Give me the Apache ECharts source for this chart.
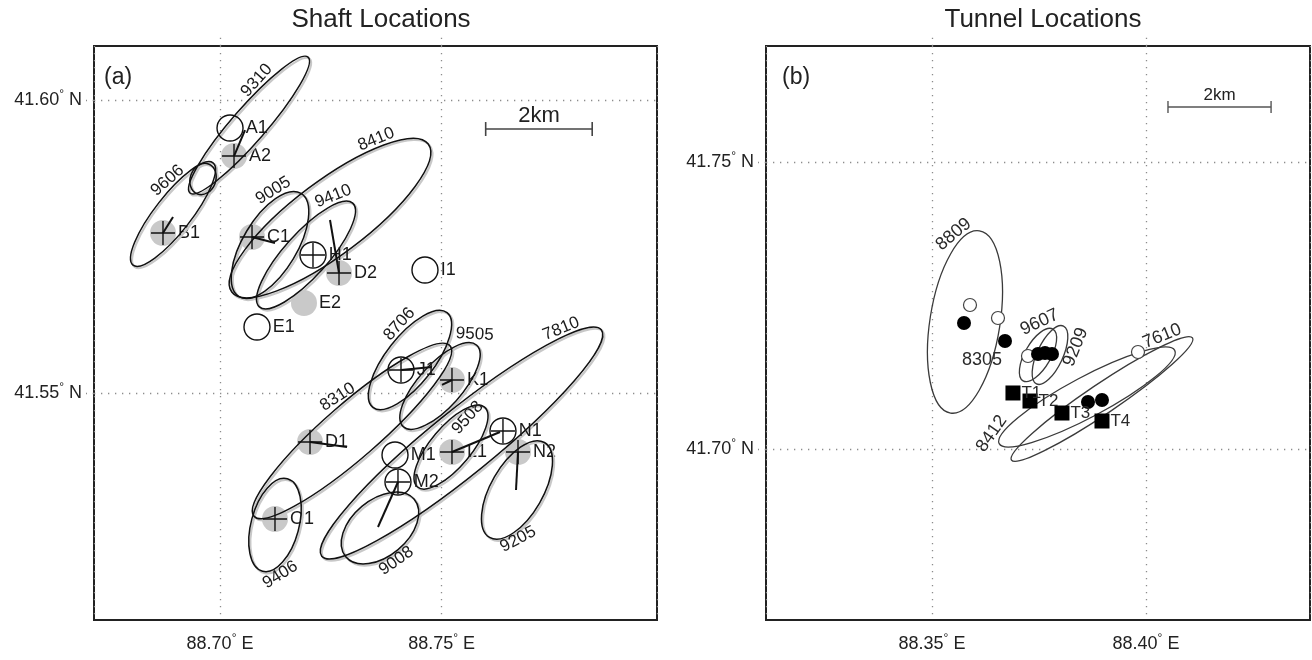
<!DOCTYPE html>
<html>
<head>
<meta charset="utf-8">
<title>Shaft and Tunnel Locations</title>
<script src="https://cdn.jsdelivr.net/npm/echarts@6/dist/echarts.min.js"></script>
<style>
  html, body { margin: 0; padding: 0; background: #fff; }
  #chart { width: 1312px; height: 660px; }
</style>
</head>
<body>
<div id="chart"></div>
<script>
const FONT = '"Liberation Sans", Arial, Helvetica, sans-serif';

// ---- panel (a): shaft locations ----
const shaftLonRange = [88.67158, 88.79856];
const shaftLatRange = [41.51126, 41.60922];
const shaftLonTicks = [88.70, 88.75];
const shaftLatTicks = [41.55, 41.60];

// [event, lon, lat, semi-major km, semi-minor km, azimuth deg (ccw from east),
//  label position on ellipse deg, label rotation deg, label offset px]
const shaftEllipses = [
  ['9310', 88.70654, 41.59573, 1.69, 0.32, 49, 65, 48, 8],
  ['9606', 88.68940, 41.58055, 1.22, 0.34, 52, 70, 42, 8],
  ['',     88.69617, 41.58652, 0.30, 0.24, 70, 0, 0, 0],
  ['8410', 88.72481, 41.57986, 2.31, 0.69, 37, 48, 22, 8],
  ['9005', 88.71128, 41.57526, 1.13, 0.51, 59, 42, 32, 8],
  ['9410', 88.71940, 41.57355, 1.31, 0.41, 48, 33, 22, 8],
  ['8706', 88.74285, 41.55563, 1.13, 0.45, 52, 70, 48, 8],
  ['9505', 88.74962, 41.55119, 1.03, 0.41, 48, 12, -3, 9],
  ['7810', 88.75447, 41.54147, 3.38, 0.60, 39, 35, 22, 8],
  ['8310', 88.72977, 41.54352, 2.44, 0.51, 41, 85, 33, 8],
  ['9406', 88.71240, 41.52747, 0.90, 0.45, 75, 210, 32, 8],
  ['9008', 88.73608, 41.52696, 0.84, 0.53, 40, -100, 35, 8],
  ['9508', 88.75210, 41.54078, 0.98, 0.38, 50, 46, 48, -9],
  ['9205', 88.76698, 41.53345, 1.03, 0.49, 60, -135, 28, 8]
];

// [name, lon, lat, has cross]
const shaftGray = [
  ['A2', 88.70316, 41.59044, 1],
  ['B1', 88.68714, 41.57730, 1],
  ['C1', 88.70722, 41.57662, 1],
  ['D2', 88.72684, 41.57048, 1],
  ['E2', 88.71894, 41.56536, 0],
  ['D1', 88.72030, 41.54164, 1],
  ['O1', 88.71240, 41.52850, 1],
  ['K1', 88.75232, 41.55222, 1],
  ['L1', 88.75232, 41.53993, 1],
  ['N2', 88.76721, 41.53993, 1]
];
const shaftOpen = [
  ['A1', 88.70226, 41.59522, 0],
  ['E1', 88.70834, 41.56126, 0],
  ['I1', 88.74623, 41.57099, 0],
  ['H1', 88.72097, 41.57355, 1],
  ['J1', 88.74082, 41.55393, 1],
  ['M1', 88.73947, 41.53942, 0],
  ['M2', 88.74014, 41.53481, 1],
  ['N1', 88.76382, 41.54351, 1]
];
// [station, lon end, lat end]
const shaftVectors = [
  ['A2', 88.70564, 41.59488],
  ['B1', 88.68940, 41.58003],
  ['C1', 88.71240, 41.57560],
  ['D2', 88.72481, 41.57952],
  ['D1', 88.72864, 41.54078],
  ['J1', 88.74781, 41.55444],
  ['K1', 88.75007, 41.55137],
  ['L1', 88.76315, 41.54334],
  ['N2', 88.76676, 41.53345],
  ['M2', 88.73563, 41.52713]
];
const shaftScale = [88.75992, 41.59505, 2];

// ---- panel (b): tunnel locations ----
const tunnelLonRange = [88.31122, 88.43832];
const tunnelLatRange = [41.67021, 41.77021];
const tunnelLonTicks = [88.35, 88.40];
const tunnelLatTicks = [41.70, 41.75];

const tunnelEllipses = [
  ['8809', 88.35771, 41.72213, 1.79, 0.68, 81, 30, 40, 9],
  ['9607', 88.37477, 41.71638, 0.58, 0.25, 60, 35, 25, 9],
  ['9209', 88.37757, 41.71638, 0.62, 0.25, 65, -60, 68, 9],
  ['8412', 88.38621, 41.70906, 1.93, 0.39, 28, 165, 55, 9],
  ['7610', 88.38972, 41.70871, 2.12, 0.29, 34, 40, 22, 9]
];
const tunnelOpen = [
  [88.35888, 41.72509], [88.36542, 41.72282], [88.37243, 41.71620], [88.39813, 41.71690]
];
const tunnelFilled = [
  [88.35748, 41.72195], [88.36706, 41.71882], [88.37477, 41.71655], [88.37640, 41.71673],
  [88.37804, 41.71655], [88.38645, 41.70819], [88.38972, 41.70854]
];
const tunnelShots = [
  ['T1', 88.36892, 41.70976],
  ['T2', 88.37290, 41.70836],
  ['T3', 88.38037, 41.70627],
  ['T4', 88.38972, 41.70488]
];
const tunnelNotes = [['8305', 88.36168, 41.71551]];
const tunnelScale = [88.40514, 41.75958, 2];

// ---- helpers ----
const DEG = Math.PI / 180;
const kmToLon = lat => 1 / (111.32 * Math.cos(lat * DEG));
const isTick = (v, ticks) => ticks.some(t => Math.abs(v - t) < 1e-6);
const dotted = { color: '#8c8c8c', width: 1.3, type: [1.3, 5.7] };
const rich = {
  n: { fontSize: 18, fontFamily: FONT, color: '#222', lineHeight: 22 },
  d: { fontSize: 12, fontFamily: FONT, color: '#222', verticalAlign: 'top', lineHeight: 12 }
};

function ellipseRender(list, opt) {
  return function (params, api) {
    const e = list[params.dataIndex];
    const c = api.coord([e[1], e[2]]);
    const pxKm = api.size([kmToLon(e[2]), 0])[0];
    const a = e[3] * pxKm, b = e[4] * pxKm, th = e[5] * DEG;
    const kids = [];
    if (opt.halo) {
      kids.push({ type: 'ellipse', x: c[0] + 1.6, y: c[1] + 1.6, rotation: th,
        shape: { cx: 0, cy: 0, rx: a, ry: b },
        style: { fill: 'none', stroke: '#c8c8c8', lineWidth: 2.2 } });
      return { type: 'group', children: kids };
    }
    kids.push({ type: 'ellipse', x: c[0], y: c[1], rotation: th,
      shape: { cx: 0, cy: 0, rx: a, ry: b },
      style: { fill: 'none', stroke: opt.color, lineWidth: opt.width } });
    if (e[0]) {
      const t = e[6] * DEG;
      const ux = Math.cos(th), uy = -Math.sin(th), vx = -Math.sin(th), vy = -Math.cos(th);
      const px = c[0] + a * Math.cos(t) * ux + b * Math.sin(t) * vx;
      const py = c[1] + a * Math.cos(t) * uy + b * Math.sin(t) * vy;
      let nx = b * Math.cos(t) * ux + a * Math.sin(t) * vx;
      let ny = b * Math.cos(t) * uy + a * Math.sin(t) * vy;
      const nl = Math.hypot(nx, ny) || 1;
      nx /= nl; ny /= nl;
      kids.push({ type: 'text', x: px + nx * e[8], y: py + ny * e[8], rotation: e[7] * DEG,
        style: { text: e[0], fontSize: opt.font, fontFamily: FONT, fill: opt.textColor,
          align: 'center', verticalAlign: 'middle' } });
    }
    return { type: 'group', children: kids };
  };
}

function scaleRender(bar, opt) {
  return function (params, api) {
    const p1 = api.coord([bar[0], bar[1]]);
    const p2 = api.coord([bar[0] + bar[2] * kmToLon(bar[1]), bar[1]]);
    const ls = { stroke: opt.color, lineWidth: opt.width };
    return { type: 'group', children: [
      { type: 'line', shape: { x1: p1[0], y1: p1[1], x2: p2[0], y2: p2[1] }, style: ls },
      { type: 'line', shape: { x1: p1[0], y1: p1[1] - opt.tick, x2: p1[0], y2: p1[1] + opt.tick }, style: ls },
      { type: 'line', shape: { x1: p2[0], y1: p2[1] - opt.tick, x2: p2[0], y2: p2[1] + opt.tick }, style: ls },
      { type: 'text', x: (p1[0] + p2[0]) / 2, y: p1[1] - opt.gap,
        style: { text: bar[2] + 'km', fontSize: opt.font, fontFamily: FONT, fill: '#222',
          align: 'center', verticalAlign: 'middle' } }
    ] };
  };
}

function axesFor(gridIndex, lonR, latR, lonT, latT) {
  const x = {
    gridIndex, type: 'value', min: lonR[0], max: lonR[1], minInterval: 0.05, maxInterval: 0.05,
    axisLine: { show: false }, axisTick: { show: false },
    splitLine: { show: true, lineStyle: dotted },
    axisLabel: { margin: 13, rich, showMinLabel: false, showMaxLabel: false,
      formatter: v => isTick(v, lonT) ? `{n|${v.toFixed(2)}}{d|°}{n| E}` : '' }
  };
  const xTop = {
    gridIndex, type: 'value', position: 'top', min: lonR[0], max: lonR[1], minInterval: 0.05, maxInterval: 0.05,
    axisLine: { show: false }, axisLabel: { show: false }, splitLine: { show: false },
    axisTick: { show: true, length: 10, customValues: lonT, lineStyle: dotted }
  };
  const y = {
    gridIndex, type: 'value', min: latR[0], max: latR[1], minInterval: 0.05, maxInterval: 0.05,
    axisLine: { show: false },
    axisTick: { show: true, length: 8, customValues: latT, lineStyle: dotted },
    splitLine: { show: true, lineStyle: dotted },
    axisLabel: { margin: 12, rich, showMinLabel: false, showMaxLabel: false,
      formatter: v => isTick(v, latT) ? `{n|${v.toFixed(2)}}{d|°}{n| N}` : '' }
  };
  return { x: [x, xTop], y };
}

const axA = axesFor(0, shaftLonRange, shaftLatRange, shaftLonTicks, shaftLatTicks);
const axB = axesFor(1, tunnelLonRange, tunnelLatRange, tunnelLonTicks, tunnelLatTicks);

const stationLabel = { show: true, position: 'right', distance: 2, formatter: '{b}',
  fontSize: 18, fontFamily: FONT, color: '#1a1a1a' };
const crossSym = 'path://M0,12L24,12M12,0L12,24';
const allShaft = shaftGray.concat(shaftOpen);
const findStation = n => allShaft.find(s => s[0] === n);

const chart = echarts.init(document.getElementById('chart'));
chart.setOption({
  animation: false,
  backgroundColor: '#fff',
  title: [
    { text: 'Shaft Locations', left: 376, top: 2, textAlign: 'center',
      textStyle: { fontSize: 26, fontWeight: 'normal', color: '#222', fontFamily: FONT } },
    { text: 'Tunnel Locations', left: 1038, top: 2, textAlign: 'center',
      textStyle: { fontSize: 26, fontWeight: 'normal', color: '#222', fontFamily: FONT } }
  ],
  graphic: [
    { type: 'text', left: 104, top: 66, style: { text: '(a)', fontSize: 23, fontFamily: FONT, fill: '#222' } },
    { type: 'text', left: 782, top: 66, style: { text: '(b)', fontSize: 23, fontFamily: FONT, fill: '#222' } }
  ],
  grid: [
    { left: 94, top: 46, width: 563, height: 574, show: true, borderColor: '#222', borderWidth: 2 },
    { left: 766, top: 46, width: 544, height: 574, show: true, borderColor: '#222', borderWidth: 2 }
  ],
  xAxis: axA.x.concat(axB.x),
  yAxis: [axA.y, axB.y],
  series: [
    // panel (a)
    { type: 'scatter', xAxisIndex: 0, yAxisIndex: 0, silent: true, z: 1,
      symbol: 'circle', symbolSize: 26, itemStyle: { color: '#c9c9c9', opacity: 1 }, label: stationLabel,
      data: shaftGray.map(s => ({ name: s[0], value: [s[1], s[2]] })) },
    { type: 'custom', xAxisIndex: 0, yAxisIndex: 0, silent: true, z: 2,
      renderItem: ellipseRender(shaftEllipses, { halo: true }),
      data: shaftEllipses.map(e => [e[1], e[2]]) },
    { type: 'custom', xAxisIndex: 0, yAxisIndex: 0, silent: true, z: 3,
      renderItem: ellipseRender(shaftEllipses, { color: '#111', width: 1.5, font: 17, textColor: '#1a1a1a' }),
      data: shaftEllipses.map(e => [e[1], e[2]]) },
    { type: 'scatter', xAxisIndex: 0, yAxisIndex: 0, silent: true, z: 4,
      symbol: 'circle', symbolSize: 26,
      itemStyle: { color: 'rgba(0,0,0,0)', borderColor: '#111', borderWidth: 1.4, opacity: 1 }, label: stationLabel,
      data: shaftOpen.map(s => ({ name: s[0], value: [s[1], s[2]] })) },
    { type: 'scatter', xAxisIndex: 0, yAxisIndex: 0, silent: true, z: 5,
      symbol: crossSym, symbolSize: 24,
      itemStyle: { color: 'rgba(0,0,0,0)', borderColor: '#111', borderWidth: 1.4, opacity: 1 },
      data: allShaft.filter(s => s[3]).map(s => [s[1], s[2]]) },
    { type: 'lines', coordinateSystem: 'cartesian2d', xAxisIndex: 0, yAxisIndex: 0, silent: true, z: 5,
      lineStyle: { color: '#111', width: 2, opacity: 1 },
      data: shaftVectors.map(v => { const s = findStation(v[0]); return { coords: [[s[1], s[2]], [v[1], v[2]]] }; }) },
    { type: 'custom', xAxisIndex: 0, yAxisIndex: 0, silent: true, z: 5,
      renderItem: scaleRender(shaftScale, { color: '#444', width: 1.6, tick: 7, gap: 13, font: 22 }),
      data: [[shaftScale[0], shaftScale[1]]] },

    // panel (b)
    { type: 'custom', xAxisIndex: 2, yAxisIndex: 1, silent: true, z: 2,
      renderItem: ellipseRender(tunnelEllipses, { color: '#3a3a3a', width: 1.3, font: 18, textColor: '#2a2a2a' }),
      data: tunnelEllipses.map(e => [e[1], e[2]]) },
    { type: 'scatter', xAxisIndex: 2, yAxisIndex: 1, silent: true, z: 3,
      symbol: 'circle', symbolSize: 13,
      itemStyle: { color: '#fff', borderColor: '#444', borderWidth: 1.2, opacity: 1 },
      data: tunnelOpen },
    { type: 'scatter', xAxisIndex: 2, yAxisIndex: 1, silent: true, z: 4,
      symbol: 'circle', symbolSize: 14, itemStyle: { color: '#000', opacity: 1 },
      data: tunnelFilled },
    { type: 'scatter', xAxisIndex: 2, yAxisIndex: 1, silent: true, z: 5,
      symbol: 'rect', symbolSize: 15, itemStyle: { color: '#000', opacity: 1 },
      label: { show: true, position: 'right', distance: 1, formatter: '{b}', fontSize: 17, fontFamily: FONT, color: '#2a2a2a' },
      data: tunnelShots.map(s => ({ name: s[0], value: [s[1], s[2]] })) },
    { type: 'scatter', xAxisIndex: 2, yAxisIndex: 1, silent: true, z: 5,
      symbolSize: 0, itemStyle: { opacity: 1 },
      label: { show: true, position: 'inside', formatter: '{b}', fontSize: 18, fontFamily: FONT, color: '#2a2a2a' },
      data: tunnelNotes.map(s => ({ name: s[0], value: [s[1], s[2]] })) },
    { type: 'custom', xAxisIndex: 2, yAxisIndex: 1, silent: true, z: 5,
      renderItem: scaleRender(tunnelScale, { color: '#555', width: 1.4, tick: 6, gap: 12, font: 17 }),
      data: [[tunnelScale[0], tunnelScale[1]]] }
  ]
});
</script>
</body>
</html>
